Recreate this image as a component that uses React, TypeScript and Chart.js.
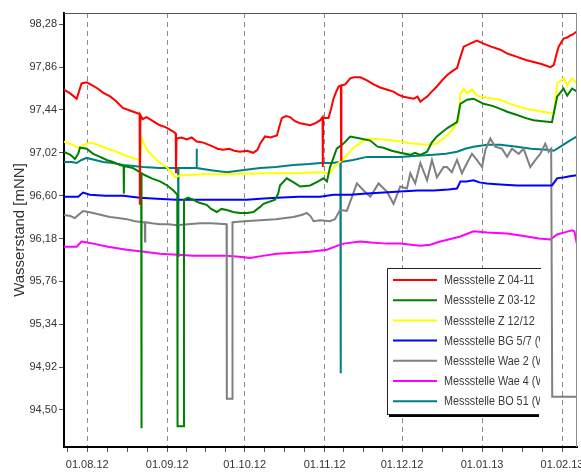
import React, { useEffect, useRef } from "react";
import { Chart, registerables } from "chart.js";

Chart.register(...registerables);

// x values are days counted from 01.08.2012
const monthStarts = [0, 31, 61, 92, 122, 153, 184];
const monthLabels = ["01.08.12", "01.09.12", "01.10.12", "01.11.12", "01.12.12", "01.01.13", "01.02.13"];
const yTicks = [94.5, 94.92, 95.34, 95.76, 96.18, 96.6, 97.02, 97.44, 97.86, 98.28];
const xMin = -9;
const xMax = 189.8;
const yMin = 94.137;
const yMax = 98.39;

const seriesNames = [
  "Messstelle Z 04-11",
  "Messstelle Z 03-12",
  "Messstelle Z 12/12",
  "Messstelle BG 5/7 (WSA)",
  "Messstelle Wae 2 (WSA)",
  "Messstelle Wae 4 (WSA)",
  "Messstelle BO 51 (WSA)",
];
const seriesColors = ["#ff0000", "#008000", "#ffff00", "#0000ff", "#808080", "#ff00ff", "#008080"];

const z0411 = [
  [-9, 97.64], [-6.5, 97.6], [-4.1, 97.55], [-3.2, 97.62], [-2.2, 97.7], [-0.2, 97.71], [2, 97.68], [4, 97.65],
  [6.1, 97.61], [9, 97.57], [11, 97.53], [13.8, 97.46], [16, 97.44], [19.2, 97.41], [20.3, 97.4], [20.4, 96.51],
  [20.6, 97.39], [21.5, 97.35], [23, 97.37], [25.5, 97.33], [28.2, 97.29], [30.5, 97.27], [33.2, 97.23], [34.3, 97.21],
  [34.4, 96.82], [34.6, 97.16], [36.5, 97.17], [38.6, 97.15], [40.5, 97.17], [42.4, 97.13], [45, 97.12], [48.8, 97.08],
  [50.5, 97.06], [52.6, 97.05], [55, 97.06], [57, 97.04], [59.2, 97.03], [62, 97.04], [64.3, 97.02], [66, 97.05],
  [67, 97.11], [68.9, 97.18], [71, 97.17], [73.5, 97.19], [74.5, 97.28], [75.4, 97.36], [77, 97.38], [78.6, 97.37],
  [80.5, 97.33], [82.5, 97.31], [84.5, 97.3], [86.4, 97.29], [88.5, 97.31], [90.3, 97.34], [91.2, 97.37], [91.3, 96.88],
  [91.4, 97.36], [93.5, 97.36], [94.5, 97.45], [95.3, 97.54], [96.5, 97.62], [97.4, 97.67], [98.3, 97.68], [98.4, 96.95],
  [98.5, 97.68], [100, 97.69], [101.9, 97.75], [103.5, 97.76], [105.8, 97.76], [108.4, 97.73], [111, 97.69], [113.5, 97.66],
  [116, 97.64], [118.7, 97.62], [120.5, 97.59], [122.6, 97.57], [124.5, 97.56], [126.5, 97.55], [128, 97.57], [129.1, 97.52],
  [130.5, 97.55], [131.7, 97.57], [133.5, 97.62], [135.5, 97.67], [137.5, 97.73], [139.4, 97.78], [141.5, 97.82], [143.3, 97.85],
  [144.5, 97.95], [145.9, 98.06], [148.4, 98.09], [151, 98.12], [153.6, 98.09], [156.5, 98.06], [160.1, 98.03], [163, 97.99],
  [166.6, 97.96], [170, 97.93], [173, 97.91], [176, 97.89], [179.5, 97.86], [180.8, 97.88], [181.8, 97.98], [182.7, 98.06],
  [184.6, 98.14], [186, 98.15], [187.2, 98.17], [188.2, 98.18], [189.8, 98.21],
];

const z0312 = [
  [-9, 97.03], [-6.5, 97.0], [-4.8, 96.96], [-3.5, 97.01], [-2.8, 97.07], [-0.2, 97.06], [2.3, 97.01], [5, 96.98],
  [7.5, 96.95], [10, 96.93], [12.7, 96.9], [14.1, 96.89], [14.2, 96.62], [14.3, 96.89], [16, 96.88], [17.8, 96.87],
  [20.4, 96.83], [20.9, 96.82], [21.0, 94.32], [21.1, 96.82], [22.4, 96.8], [25, 96.77], [28.2, 96.74], [31, 96.7],
  [33.4, 96.65], [34.9, 96.61], [35.0, 94.34], [37.4, 94.34], [37.5, 96.56], [39, 96.58], [41.1, 96.56], [43.5, 96.53],
  [46.3, 96.51], [48, 96.47], [50.2, 96.44], [52, 96.47], [54.1, 96.46], [56.5, 96.44], [59.2, 96.43], [62, 96.43],
  [64.4, 96.44], [67, 96.49], [68.3, 96.52], [72.8, 96.56], [74, 96.62], [74.7, 96.7], [77.3, 96.77], [80, 96.73],
  [82.5, 96.69], [86.4, 96.7], [89.5, 96.74], [91.5, 96.77], [92.9, 96.74], [94.1, 96.88], [96.7, 97.06], [99.3, 97.11],
  [101.9, 97.18], [105.8, 97.16], [109.7, 97.14], [112.5, 97.08], [114.8, 97.07], [118, 97.04], [121.3, 97.02], [125.2, 97.0],
  [127, 97.02], [129.1, 97.0], [131.7, 97.03], [133.5, 97.12], [135.5, 97.18], [139.4, 97.26], [143.3, 97.32], [144.6, 97.5],
  [147.2, 97.54], [149.7, 97.55], [153.6, 97.5], [157, 97.48], [160.1, 97.45], [163, 97.42], [166.6, 97.39], [170, 97.36],
  [173, 97.34], [176.5, 97.33], [180.1, 97.32], [182.1, 97.57], [184.6, 97.65], [186, 97.58], [187.9, 97.65], [189.8, 97.62],
];

const z1212 = [
  [-9, 97.13], [-6, 97.1], [-3.5, 97.07], [-1, 97.1], [1.5, 97.12], [4, 97.1], [8, 97.06], [11.4, 97.03],
  [16, 96.98], [20.4, 96.95], [21.1, 97.16], [22.3, 97.09], [23.7, 97.03], [25.3, 96.99], [26.9, 96.95], [28.8, 96.91],
  [30.8, 96.88], [32.5, 96.83], [34, 96.78], [36, 96.8], [38.6, 96.8], [45, 96.81], [54.1, 96.81], [70, 96.82],
  [80, 96.82], [90.3, 96.83], [94.1, 96.82], [95.4, 96.88], [99.3, 96.96], [103.2, 97.07], [108.4, 97.16], [115, 97.15],
  [121.3, 97.13], [126, 97.11], [131.7, 97.1], [135.5, 97.11], [138, 97.16], [140.7, 97.22], [143.9, 97.34], [144.6, 97.6],
  [145.9, 97.65], [147.2, 97.6], [149.1, 97.64], [151, 97.58], [155, 97.56], [160.1, 97.54], [165, 97.49], [170.4, 97.45],
  [175, 97.43], [179.5, 97.41], [180.8, 97.41], [182.1, 97.7], [184.6, 97.75], [186, 97.68], [187.9, 97.75], [189.8, 97.7],
];

const bg57 = [
  [-9, 96.59], [-3.5, 96.59], [-1.6, 96.63], [1, 96.61], [7, 96.6], [14, 96.6], [20.4, 96.58], [27, 96.57],
  [34.7, 96.56], [44, 96.56], [54.1, 96.56], [61.8, 96.56], [67, 96.57], [73.5, 96.58], [82, 96.59], [90.3, 96.59],
  [95.4, 96.61], [102, 96.61], [108.4, 96.62], [115, 96.63], [121.3, 96.64], [128, 96.65], [134.2, 96.65], [140, 96.66],
  [143.3, 96.67], [144.6, 96.74], [147, 96.74], [149.7, 96.75], [152, 96.73], [154.9, 96.72], [160, 96.71], [166.6, 96.7],
  [173, 96.7], [180.1, 96.7], [182.1, 96.77], [185, 96.78], [187, 96.79], [189.8, 96.8],
];

const wae2 = [
  [-9, 96.41], [-6.5, 96.4], [-4.8, 96.38], [-3, 96.42], [-1.6, 96.45], [0.5, 96.44], [2.3, 96.43], [5.5, 96.41],
  [8.8, 96.39], [12, 96.38], [15.3, 96.37], [18.5, 96.35], [21.7, 96.34], [22.3, 96.34], [22.4, 96.15], [22.5, 96.34],
  [25, 96.33], [28.2, 96.32], [31.5, 96.32], [34.7, 96.31], [39, 96.32], [43.7, 96.33], [48, 96.33], [54.0, 96.32],
  [54.1, 94.61], [56.2, 94.61], [56.3, 96.34], [61, 96.35], [67, 96.36], [73, 96.37], [79.9, 96.39], [83, 96.41],
  [85.1, 96.43], [86.5, 96.4], [87.7, 96.35], [90.3, 96.36], [94.1, 96.35], [96, 96.37], [98, 96.46], [100.6, 96.45],
  [102.5, 96.58], [104.5, 96.72], [107.1, 96.65], [109.7, 96.59], [112.9, 96.72], [116.1, 96.64], [118.7, 96.52], [121.3, 96.69],
  [123.9, 96.67], [125.2, 96.82], [127.1, 96.72], [129.1, 96.92], [131.7, 96.75], [133.6, 96.95], [135.5, 96.78], [138.1, 96.88],
  [139.4, 96.88], [141.3, 96.83], [143.3, 96.95], [145.2, 96.82], [147.2, 96.92], [149.1, 97.01], [151, 96.95], [153, 96.88],
  [154.3, 97.05], [156.2, 97.16], [158.1, 97.08], [160.7, 97.06], [162.7, 96.98], [164.6, 97.06], [167.2, 97.01], [169.1, 97.06],
  [171.7, 96.88], [173.7, 96.95], [175.6, 97.01], [177.5, 97.11], [178.8, 97.03], [179.8, 97.06], [180.2, 94.63], [189.8, 94.63],
];

const wae4 = [
  [-9, 96.1], [-4.1, 96.1], [-2.2, 96.15], [0, 96.14], [2.3, 96.13], [8, 96.1], [15.3, 96.07], [22, 96.05],
  [28.2, 96.03], [35, 96.02], [41.1, 96.01], [48, 96.01], [54.1, 96.01], [60, 96.0], [63.1, 95.99], [68, 96.01],
  [73.5, 96.03], [80, 96.04], [86.4, 96.05], [92.9, 96.07], [96, 96.1], [99.3, 96.13], [105.8, 96.15], [110, 96.14],
  [116.1, 96.13], [121.3, 96.13], [129.1, 96.11], [133, 96.12], [136.8, 96.15], [140, 96.17], [144.6, 96.2], [149.7, 96.25],
  [154.9, 96.24], [162.7, 96.23], [170.4, 96.2], [175, 96.18], [179.5, 96.17], [182.1, 96.22], [185, 96.24], [187.9, 96.26],
  [188.8, 96.25], [189.8, 96.12],
];

const bo51 = [
  [-9, 96.93], [-6, 96.93], [-4.1, 96.92], [-2.2, 96.95], [-0.2, 96.97], [3, 96.95], [6.2, 96.93], [10, 96.92],
  [14, 96.9], [18, 96.89], [21.7, 96.88], [28, 96.87], [35.2, 96.87], [35.3, 96.0], [35.4, 96.87], [40, 96.87],
  [42.3, 96.87], [42.4, 97.06], [42.5, 96.87], [48, 96.85], [54.1, 96.83], [60, 96.85], [67, 96.87], [73, 96.88],
  [79.9, 96.9], [86, 96.91], [90.3, 96.92], [95, 96.92], [98.1, 96.93], [98.2, 94.86], [98.3, 96.93], [103, 96.95],
  [108.4, 96.98], [115, 96.98], [121.3, 96.98], [128, 96.99], [134.2, 97.0], [139, 97.01], [143.3, 97.03], [146.5, 97.06],
  [149.7, 97.08], [154.9, 97.1], [160, 97.1], [166.6, 97.08], [172, 97.06], [178.2, 97.05], [180.8, 97.04], [184.6, 97.1],
  [187, 97.14], [189.8, 97.18],
];

const seriesData = [z0411, z0312, z1212, bg57, wae2, wae4, bo51];

const FONT = "'Liberation Sans', Arial, sans-serif";

function buildXTicks(): number[] {
  const out: number[] = [monthStarts[0] - 31 / 4];
  for (let i = 0; i < monthStarts.length; i++) {
    out.push(monthStarts[i]);
    if (i < monthStarts.length - 1) {
      const len = monthStarts[i + 1] - monthStarts[i];
      for (let q = 1; q < 4; q++) out.push(monthStarts[i] + (len * q) / 4);
    }
  }
  return out.filter((v) => v >= xMin && v <= xMax);
}

const framePlugin = {
  id: "frame",
  beforeDraw(chart: any) {
    const ctx = chart.ctx;
    ctx.save();
    ctx.fillStyle = "#ffffff";
    ctx.fillRect(0, 0, chart.width, chart.height);
    ctx.restore();
  },
  afterDatasetsDraw(chart: any) {
    const { ctx, chartArea } = chart;
    ctx.save();
    ctx.strokeStyle = "#555555";
    ctx.lineWidth = 1;
    ctx.beginPath();
    ctx.moveTo(chartArea.left, chartArea.top + 0.5);
    ctx.lineTo(chartArea.right, chartArea.top + 0.5);
    ctx.stroke();
    ctx.strokeStyle = "#8a8a8a";
    ctx.beginPath();
    ctx.moveTo(chartArea.right - 0.5, chartArea.top);
    ctx.lineTo(chartArea.right - 0.5, chartArea.bottom);
    ctx.stroke();
    ctx.restore();
  },
};

const legendPlugin = {
  id: "boxLegend",
  afterDraw(chart: any) {
    const ctx = chart.ctx;
    const bx = 387;
    const by = 268;
    const bw = 154;
    const bh = 147;
    ctx.save();
    ctx.fillStyle = "#000";
    ctx.fillRect(bx + 2, by + bh, bw - 4, 2);
    ctx.fillStyle = "#fff";
    ctx.fillRect(bx, by, bw, bh);
    ctx.strokeStyle = "#222";
    ctx.lineWidth = 1;
    ctx.beginPath();
    ctx.moveTo(bx + 0.5, by + bh);
    ctx.lineTo(bx + 0.5, by + 0.5);
    ctx.lineTo(bx + bw, by + 0.5);
    ctx.moveTo(bx, by + bh - 0.5);
    ctx.lineTo(bx + bw - 2, by + bh - 0.5);
    ctx.stroke();
    ctx.beginPath();
    ctx.rect(bx + 1, by + 1, bw - 2, bh - 2);
    ctx.clip();
    ctx.font = `13.5px ${FONT}`;
    ctx.textBaseline = "middle";
    ctx.textAlign = "left";
    seriesNames.forEach((name, i) => {
      const y = by + 12 + i * 20.2;
      ctx.strokeStyle = seriesColors[i];
      ctx.lineWidth = 2;
      ctx.beginPath();
      ctx.moveTo(bx + 6, y);
      ctx.lineTo(bx + 50, y);
      ctx.stroke();
      ctx.save();
      ctx.translate(bx + 57, y + 0.5);
      ctx.scale(0.8, 1);
      ctx.fillStyle = "#3a3a3a";
      ctx.fillText(name, 0, 0);
      ctx.restore();
    });
    ctx.restore();
  },
};

export default function App() {
  const ref = useRef<HTMLCanvasElement>(null);

  useEffect(() => {
    const canvas = ref.current;
    if (!canvas) return;
    const xTicks = buildXTicks();
    const datasets = seriesData.map((pts, i) => ({
      label: seriesNames[i],
      data: pts.map(([x, y]) => ({ x, y })),
      borderColor: seriesColors[i],
      backgroundColor: seriesColors[i],
      borderWidth: 2,
      pointRadius: 0,
      pointHoverRadius: 0,
      tension: 0,
      fill: false,
    }));

    const chart = new Chart(canvas, {
      type: "line",
      data: { datasets },
      options: {
        responsive: false,
        animation: false,
        events: [],
        layout: { padding: { top: 13, right: 4, left: 0, bottom: 0 } },
        plugins: {
          legend: { display: false },
          tooltip: { enabled: false },
          title: { display: false },
        },
        scales: {
          x: {
            type: "linear",
            min: xMin,
            max: xMax,
            afterBuildTicks: (scale: any) => {
              scale.ticks = xTicks.map((v) => ({ value: v }));
            },
            afterFit: (scale: any) => {
              scale.height = 28;
              scale.paddingLeft = 0;
              scale.paddingRight = 0;
            },
            ticks: {
              autoSkip: false,
              maxRotation: 0,
              minRotation: 0,
              padding: 6,
              color: "#333",
              font: { family: FONT, size: 11 },
              callback: (value: any) => {
                const idx = monthStarts.indexOf(Number(value));
                return idx >= 0 ? monthLabels[idx] : "";
              },
            },
            grid: {
              drawOnChartArea: true,
              drawTicks: true,
              tickLength: 5,
              tickWidth: 1,
              tickColor: "#555",
              lineWidth: 1,
              color: (c: any) =>
                c.tick && monthStarts.indexOf(Number(c.tick.value)) >= 0 ? "#8c8c8c" : "rgba(0,0,0,0)",
            },
            border: { display: true, color: "#000", width: 2, dash: [5, 4] },
          },
          y: {
            type: "linear",
            min: yMin,
            max: yMax,
            afterBuildTicks: (scale: any) => {
              scale.ticks = yTicks.map((v) => ({ value: v }));
            },
            afterFit: (scale: any) => {
              scale.width = 64;
              scale.paddingTop = 0;
              scale.paddingBottom = 0;
            },
            ticks: {
              autoSkip: false,
              padding: 2,
              color: "#333",
              font: { family: FONT, size: 11 },
              callback: (value: any) => Number(value).toFixed(2).replace(".", ","),
            },
            grid: {
              drawOnChartArea: false,
              drawTicks: true,
              tickLength: 5,
              tickColor: "#555",
            },
            border: { display: true, color: "#000", width: 2 },
            title: {
              display: true,
              text: "Wasserstand [mNN]",
              color: "#333",
              font: { family: FONT, size: 15 },
              padding: { top: 11, bottom: 0 },
            },
          },
        },
      },
      plugins: [framePlugin, legendPlugin],
    } as any);

    return () => chart.destroy();
  }, []);

  return (
    <div style={{ position: "fixed", left: 0, top: 0, width: 581, height: 475, background: "#fff" }}>
      <canvas ref={ref} width={581} height={475} style={{ display: "block" }} />
    </div>
  );
}
